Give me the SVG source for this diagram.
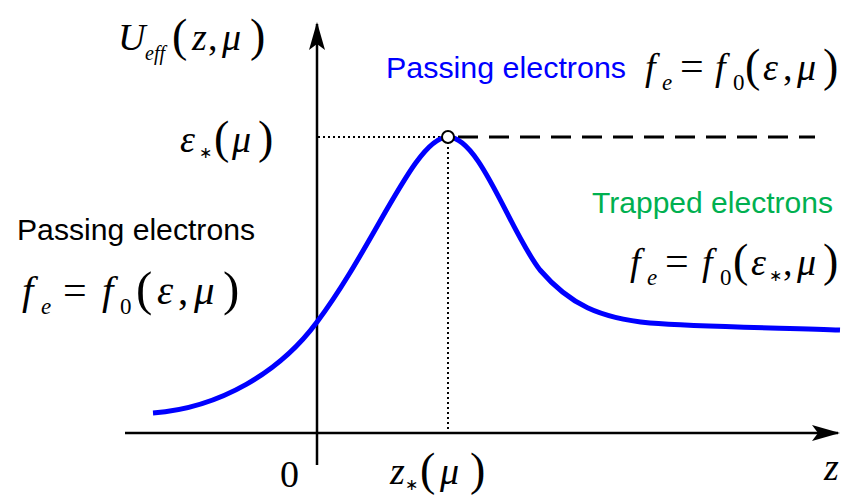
<svg xmlns="http://www.w3.org/2000/svg" width="847" height="497" viewBox="0 0 847 497">
<style>
.m{font-family:"Liberation Serif","Times New Roman",serif;font-style:italic;font-size:38px;fill:#000}
.r{font-style:normal}
.sub{font-size:23px}
.st{font-style:normal;font-size:16px}
.eq{font-style:normal;font-size:42px}
.par{font-style:normal;font-size:46px}
.lbl{font-family:"Liberation Sans",Arial,sans-serif;font-size:30px}
.ax{stroke:#000;stroke-width:2.5;fill:none}
.dot{stroke:#000;stroke-width:2;stroke-dasharray:2 3;fill:none}
.big{font-size:41px}
.bigp{font-size:49px}
</style>
<defs>
<marker id="ah" viewBox="0 0 28 16" refX="26" refY="8" markerWidth="28" markerHeight="16" markerUnits="userSpaceOnUse" orient="auto">
<path d="M0,0 L28,8 L0,16 L6,8 Z" fill="#000"/>
</marker>
</defs>
<g id="axes">
<line class="ax" x1="125" y1="433" x2="838" y2="433" marker-end="url(#ah)"/>
<line class="ax" x1="317" y1="465" x2="317" y2="24" marker-end="url(#ah)"/>
</g>
<g id="connectors">
<line class="dot" x1="318" y1="137" x2="444" y2="137"/>
<line class="dot" x1="448" y1="142" x2="448" y2="432"/>
<line x1="458" y1="137" x2="815" y2="137" stroke="#000" stroke-width="3" stroke-dasharray="20 11"/>
</g>
<g id="curve">
<path d="M153,413 C220,408 280,372 317,322 C375,245 415,137 448,137 C480,137 510,232 540,270 C570,305 600,318 650,323 C700,327 790,328 840,330" fill="none" stroke="#0000ff" stroke-width="5"/>
<circle cx="448" cy="137" r="6" fill="#fff" stroke="#000" stroke-width="2"/>
</g>
<g id="yaxis-label">
<text class="m"><tspan x="118" y="50">U</tspan><tspan x="145" y="60" font-size="20">eff</tspan><tspan class="par" x="172" y="51">(</tspan><tspan x="192" y="50">z</tspan><tspan class="r" x="208" y="50">,</tspan><tspan x="222" y="50">μ</tspan><tspan class="par" x="250" y="51">)</tspan></text>
</g>
<g id="eps-star">
<text class="m"><tspan x="180" y="152">ε</tspan><tspan class="st" x="199" y="158">∗</tspan><tspan class="par" x="214" y="153">(</tspan><tspan x="232" y="152">μ</tspan><tspan class="par" x="258" y="153">)</tspan></text>
</g>
<g id="passing-top">
<text class="lbl" x="386" y="78" fill="#0000ff" textLength="240" lengthAdjust="spacingAndGlyphs">Passing electrons</text>
<text class="m"><tspan x="645" y="80">f</tspan><tspan class="sub" x="662" y="90">e</tspan><tspan class="eq" x="680" y="80">=</tspan><tspan x="715" y="80">f</tspan><tspan class="r sub" x="733" y="90">0</tspan><tspan class="par" x="745" y="81">(</tspan><tspan x="763" y="80">ε</tspan><tspan class="r" x="783" y="80">,</tspan><tspan x="797" y="80">μ</tspan><tspan class="par" x="823" y="81">)</tspan></text>
</g>
<g id="passing-left">
<text class="lbl" x="17" y="240" fill="#000" textLength="238" lengthAdjust="spacingAndGlyphs">Passing electrons</text>
<text class="m big"><tspan x="22" y="304">f</tspan><tspan class="sub" x="41" y="314">e</tspan><tspan class="eq" x="63" y="304">=</tspan><tspan x="102" y="304">f</tspan><tspan class="r sub" x="120" y="314">0</tspan><tspan class="par bigp" x="136" y="305">(</tspan><tspan x="157" y="304">ε</tspan><tspan class="r" x="178" y="304">,</tspan><tspan x="194" y="304">μ</tspan><tspan class="par bigp" x="223" y="305">)</tspan></text>
</g>
<g id="trapped">
<text class="lbl" x="592" y="213" fill="#00b050" textLength="241" lengthAdjust="spacingAndGlyphs">Trapped electrons</text>
<text class="m"><tspan x="630" y="275">f</tspan><tspan class="sub" x="647" y="285">e</tspan><tspan class="eq" x="665" y="275">=</tspan><tspan x="702" y="275">f</tspan><tspan class="r sub" x="720" y="285">0</tspan><tspan class="par" x="733" y="276">(</tspan><tspan x="751" y="275">ε</tspan><tspan class="st" x="769" y="281">∗</tspan><tspan class="r" x="783" y="275">,</tspan><tspan x="797" y="275">μ</tspan><tspan class="par" x="823" y="276">)</tspan></text>
</g>
<g id="xaxis-labels">
<text class="m r" x="280" y="487">0</text>
<text class="m"><tspan x="390" y="484">z</tspan><tspan class="st" x="405" y="490">∗</tspan><tspan class="par" x="420" y="485">(</tspan><tspan x="440" y="484">μ</tspan><tspan class="par" x="470" y="485">)</tspan></text>
<text class="m" x="824" y="480">z</text>
</g>
</svg>
